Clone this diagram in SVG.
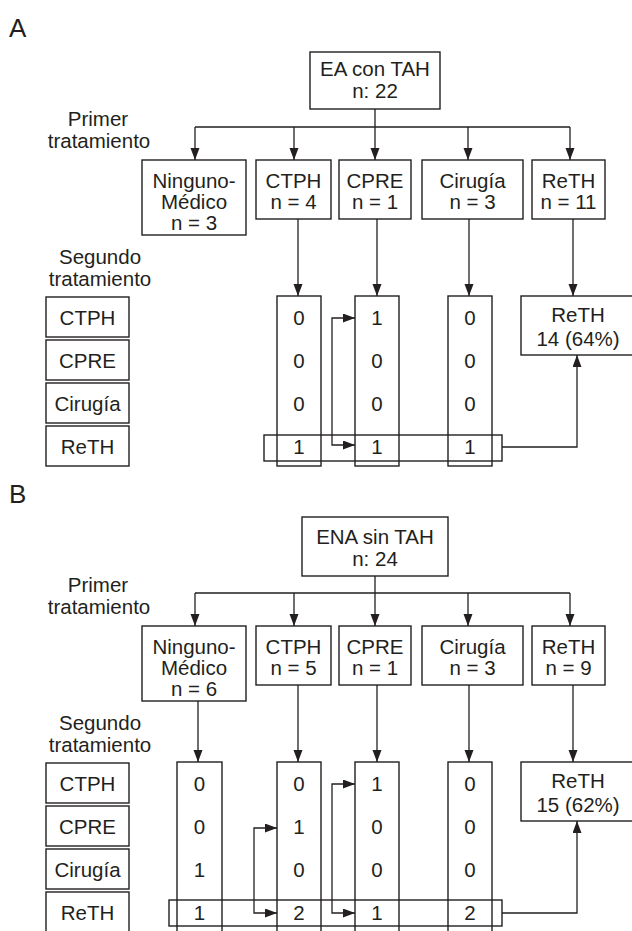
<svg xmlns="http://www.w3.org/2000/svg" width="632" height="931" viewBox="0 0 632 931">
<style>
  text{font-family:"Liberation Sans",Arial,sans-serif;font-size:20.5px;fill:#231f20;text-anchor:middle}
  .panel{font-size:26px;text-anchor:start}
  .box{fill:#fff;stroke:#231f20;stroke-width:1.4}
  .col{fill:none;stroke:#231f20;stroke-width:1.4}
  .ln{fill:none;stroke:#231f20;stroke-width:1.3}
  .arr{fill:none;stroke:#231f20;stroke-width:1.3;marker-end:url(#ah)}
</style>
<defs>
  <marker id="ah" markerUnits="userSpaceOnUse" markerWidth="12" markerHeight="10" refX="12" refY="4.5" orient="auto">
    <path d="M0,0 L12,4.5 L0,9 z" fill="#231f20"/>
  </marker>
</defs>
<rect width="632" height="931" fill="#fff"/>

<!-- ===================== PANEL A ===================== -->
<text class="panel" x="9" y="37">A</text>
<text x="98" y="126">Primer</text>
<text x="99" y="148">tratamiento</text>
<text x="100" y="264">Segundo</text>
<text x="100" y="286">tratamiento</text>

<g id="A-connectors">
  <path class="ln" d="M375,109 V127 M195,127 H570"/>
  <path class="arr" d="M195,127 V160"/>
  <path class="arr" d="M294,127 V160"/>
  <path class="arr" d="M375,127 V160"/>
  <path class="arr" d="M468,127 V160"/>
  <path class="arr" d="M570,127 V160"/>
  <path class="arr" d="M298,219 V296"/>
  <path class="arr" d="M377,219 V296"/>
  <path class="arr" d="M469,219 V296"/>
  <path class="arr" d="M573,219 V296"/>
  <path class="arr" d="M332,381 V318 H355"/>
  <path class="arr" d="M332,381 V445 H355"/>
  <path class="arr" d="M502,447 H577 V355"/>
</g>

<g id="A-root"><rect class="box" x="310" y="52" width="130" height="57"/><text x="375" y="76">EA con TAH</text><text x="375" y="98">n: 22</text></g>
<g id="A-ninguno"><rect class="box" x="142" y="160" width="104" height="75"/><text x="194" y="188">Ninguno-</text><text x="194" y="209">Médico</text><text x="194" y="230">n = 3</text></g>
<g id="A-ctph"><rect class="box" x="256" y="160" width="75" height="59"/><text x="293.5" y="188">CTPH</text><text x="293.5" y="209">n = 4</text></g>
<g id="A-cpre"><rect class="box" x="339" y="160" width="72" height="59"/><text x="375" y="188">CPRE</text><text x="375" y="209">n = 1</text></g>
<g id="A-cirugia"><rect class="box" x="422" y="160" width="101" height="59"/><text x="472.5" y="188">Cirugía</text><text x="472.5" y="209">n = 3</text></g>
<g id="A-reth"><rect class="box" x="532" y="160" width="73" height="59"/><text x="568.5" y="188">ReTH</text><text x="568.5" y="209">n = 11</text></g>

<g id="A-labels">
  <rect class="box" x="46" y="297" width="83" height="40"/><text x="87.5" y="324.5">CTPH</text>
  <rect class="box" x="46" y="340" width="83" height="40"/><text x="87.5" y="367.5">CPRE</text>
  <rect class="box" x="46" y="383" width="83" height="40"/><text x="87.5" y="410.5">Cirugía</text>
  <rect class="box" x="46" y="426" width="83" height="40"/><text x="87.5" y="453.5">ReTH</text>
</g>

<g id="A-col-ctph"><rect class="col" x="277" y="296" width="44" height="170"/><text x="299" y="325">0</text><text x="299" y="368">0</text><text x="299" y="411">0</text><text x="299" y="454">1</text></g>
<g id="A-col-cpre"><rect class="col" x="355" y="296" width="44" height="170"/><text x="377" y="325">1</text><text x="377" y="368">0</text><text x="377" y="411">0</text><text x="377" y="454">1</text></g>
<g id="A-col-cirugia"><rect class="col" x="448" y="296" width="44" height="170"/><text x="470" y="325">0</text><text x="470" y="368">0</text><text x="470" y="411">0</text><text x="470" y="454">1</text></g>
<g id="A-row-reth"><rect class="col" x="264" y="435" width="238" height="26"/></g>
<g id="A-result"><rect class="box" x="521" y="296" width="120" height="59"/><text x="578" y="322">ReTH</text><text x="578" y="346">14 (64%)</text></g>

<!-- ===================== PANEL B ===================== -->
<text class="panel" x="9" y="503">B</text>
<text x="98" y="592">Primer</text>
<text x="99" y="614">tratamiento</text>
<text x="100" y="730">Segundo</text>
<text x="100" y="752">tratamiento</text>

<g id="B-connectors">
  <path class="ln" d="M375,576 V593 M195,593 H570"/>
  <path class="arr" d="M195,593 V626"/>
  <path class="arr" d="M294,593 V626"/>
  <path class="arr" d="M375,593 V626"/>
  <path class="arr" d="M468,593 V626"/>
  <path class="arr" d="M570,593 V626"/>
  <path class="arr" d="M198,701 V762"/>
  <path class="arr" d="M298,685 V762"/>
  <path class="arr" d="M377,685 V762"/>
  <path class="arr" d="M469,685 V762"/>
  <path class="arr" d="M573,685 V762"/>
  <path class="arr" d="M254,870 V828 H277"/>
  <path class="arr" d="M254,870 V913 H277"/>
  <path class="arr" d="M332,850 V784 H355"/>
  <path class="arr" d="M332,850 V913 H355"/>
  <path class="arr" d="M502,913 H577 V821"/>
</g>

<g id="B-root"><rect class="box" x="302" y="517" width="146" height="59"/><text x="375" y="544">ENA sin TAH</text><text x="375" y="566">n: 24</text></g>
<g id="B-ninguno"><rect class="box" x="142" y="626" width="104" height="75"/><text x="194" y="654">Ninguno-</text><text x="194" y="675">Médico</text><text x="194" y="696">n = 6</text></g>
<g id="B-ctph"><rect class="box" x="256" y="626" width="75" height="59"/><text x="293.5" y="654">CTPH</text><text x="293.5" y="675">n = 5</text></g>
<g id="B-cpre"><rect class="box" x="339" y="626" width="72" height="59"/><text x="375" y="654">CPRE</text><text x="375" y="675">n = 1</text></g>
<g id="B-cirugia"><rect class="box" x="422" y="626" width="101" height="59"/><text x="472.5" y="654">Cirugía</text><text x="472.5" y="675">n = 3</text></g>
<g id="B-reth"><rect class="box" x="532" y="626" width="73" height="59"/><text x="568.5" y="654">ReTH</text><text x="568.5" y="675">n = 9</text></g>

<g id="B-labels">
  <rect class="box" x="46" y="763" width="83" height="40"/><text x="87.5" y="790.5">CTPH</text>
  <rect class="box" x="46" y="806" width="83" height="40"/><text x="87.5" y="833.5">CPRE</text>
  <rect class="box" x="46" y="849" width="83" height="40"/><text x="87.5" y="876.5">Cirugía</text>
  <rect class="box" x="46" y="892" width="83" height="45"/><text x="87.5" y="919.5">ReTH</text>
</g>

<g id="B-col-ninguno"><rect class="col" x="177" y="762" width="45" height="180"/><text x="199.5" y="791">0</text><text x="199.5" y="834">0</text><text x="199.5" y="877">1</text><text x="199.5" y="920">1</text></g>
<g id="B-col-ctph"><rect class="col" x="277" y="762" width="44" height="180"/><text x="299" y="791">0</text><text x="299" y="834">1</text><text x="299" y="877">0</text><text x="299" y="920">2</text></g>
<g id="B-col-cpre"><rect class="col" x="355" y="762" width="44" height="180"/><text x="377" y="791">1</text><text x="377" y="834">0</text><text x="377" y="877">0</text><text x="377" y="920">1</text></g>
<g id="B-col-cirugia"><rect class="col" x="448" y="762" width="44" height="180"/><text x="470" y="791">0</text><text x="470" y="834">0</text><text x="470" y="877">0</text><text x="470" y="920">2</text></g>
<g id="B-row-reth"><rect class="col" x="169" y="900" width="333" height="26"/></g>
<g id="B-result"><rect class="box" x="521" y="762" width="120" height="59"/><text x="578" y="788">ReTH</text><text x="578" y="812">15 (62%)</text></g>
</svg>
